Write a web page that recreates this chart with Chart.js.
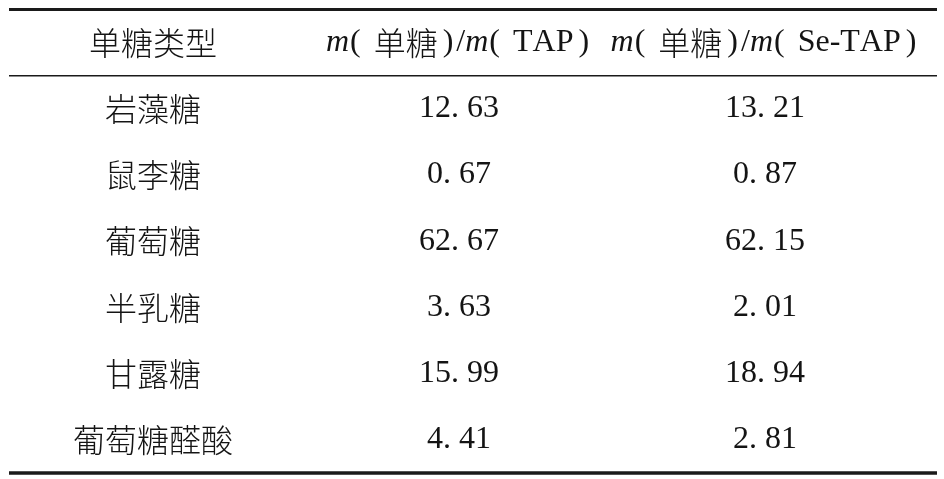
<!DOCTYPE html>
<html>
<head>
<meta charset="utf-8">
<script src="https://cdn.jsdelivr.net/npm/chart.js@4.4.0/dist/chart.umd.min.js"></script>
<style>
    html, body { margin: 0; padding: 0; background: #fff; }
    #wrap { width: 944px; height: 479px; }
</style>
</head>
<body>
<div id="wrap"><canvas id="table" width="944" height="479"></canvas></div>
<script>
// Table data
const columnHeaders = ['单糖类型', 'm(单糖)/m(TAP)', 'm(单糖)/m(Se-TAP)'];
const sugarTypes = ['岩藻糖', '鼠李糖', '葡萄糖', '半乳糖', '甘露糖', '葡萄糖醛酸'];
const tapRatio = [12.63, 0.67, 62.67, 3.63, 15.99, 4.41];
const seTapRatio = [13.21, 0.87, 62.15, 2.01, 18.94, 2.81];

// Category keys for the two axes (row 0 is the header row)
const rowKeys = ['header'].concat(sugarTypes);
const colKeys = ['type', 'tap', 'setap'];

const SERIF = "'Liberation Serif', 'DejaVu Serif', serif";
const CJK = "'Noto Sans CJK SC', sans-serif";
const FONT_SIZE = 32;
const INK = '#141414';

function formatRatio(v) {
    return v.toFixed(2).replace('.', '. ');
}

// Text of one cell
function cellText(col, row) {
    if (row === 0) return columnHeaders[col];
    if (col === 0) return sugarTypes[row - 1];
    const v = col === 1 ? tapRatio[row - 1] : seTapRatio[row - 1];
    return formatRatio(v);
}

// Split a string into characters with a font each (italic m, CJK, serif)
function splitRuns(text) {
    const pieces = [];
    for (const ch of text) {
        let font = FONT_SIZE + 'px ' + SERIF;
        let padL = 0, padR = 0;
        if (ch >= '\u3000') {
            font = '300 ' + FONT_SIZE + 'px ' + CJK;
        } else if (ch === 'm') {
            font = 'italic ' + FONT_SIZE + 'px ' + SERIF;
        } else if (ch === '(') {
            padL = 1; padR = 13;
        } else if (ch === ')') {
            padL = 5; padR = 3;
        }
        pieces.push({ ch, font, padL, padR });
    }
    return pieces;
}

function drawCell(ctx, text, cx, cy) {
    const pieces = splitRuns(text);
    let total = 0;
    pieces.forEach(p => {
        ctx.font = p.font;
        p.w = ctx.measureText(p.ch).width;
        total += p.padL + p.w + p.padR;
    });
    let x = cx - total / 2;
    pieces.forEach(p => {
        x += p.padL;
        ctx.font = p.font;
        ctx.fillText(p.ch, x, cy);
        x += p.w + p.padR;
    });
}

// Horizontal rules of the three-line table
const tableRules = {
    id: 'tableRules',
    afterDatasetsDraw(chart) {
        const ctx = chart.ctx;
        const area = chart.chartArea;
        const y = chart.scales.y;
        const left = 9, right = 937;
        const midY = (y.getPixelForValue(0) + y.getPixelForValue(1)) / 2;
        ctx.save();
        ctx.strokeStyle = '#1a1a1a';
        [[area.top, 3], [midY, 1.6], [area.bottom, 3.5]].forEach(([ry, w]) => {
            ctx.lineWidth = w;
            ctx.beginPath();
            ctx.moveTo(left, ry);
            ctx.lineTo(right, ry);
            ctx.stroke();
        });
        ctx.restore();
    }
};

// Cell texts drawn at each point position
const tableText = {
    id: 'tableText',
    afterDatasetsDraw(chart) {
        const ctx = chart.ctx;
        ctx.save();
        ctx.fillStyle = INK;
        ctx.textAlign = 'left';
        ctx.textBaseline = 'middle';
        chart.data.datasets.forEach((ds, col) => {
            chart.getDatasetMeta(col).data.forEach((el, row) => {
                drawCell(ctx, cellText(col, row), el.x, el.y);
            });
        });
        ctx.restore();
    }
};

const datasets = colKeys.map(c => ({
    label: c,
    data: rowKeys.map(r => ({ x: c, y: r })),
    pointRadius: 0,
    showLine: false
}));

new Chart(document.getElementById('table'), {
    type: 'scatter',
    data: { datasets },
    options: {
        responsive: false,
        animation: false,
        events: [],
        layout: { padding: { left: 0, right: 26, top: 9.5, bottom: 6 } },
        scales: {
            x: { type: 'category', labels: colKeys, offset: true, display: false },
            y: { type: 'category', labels: rowKeys, offset: true, display: false }
        },
        plugins: {
            legend: { display: false },
            tooltip: { enabled: false }
        }
    },
    plugins: [tableRules, tableText]
});
</script>
</body>
</html>
